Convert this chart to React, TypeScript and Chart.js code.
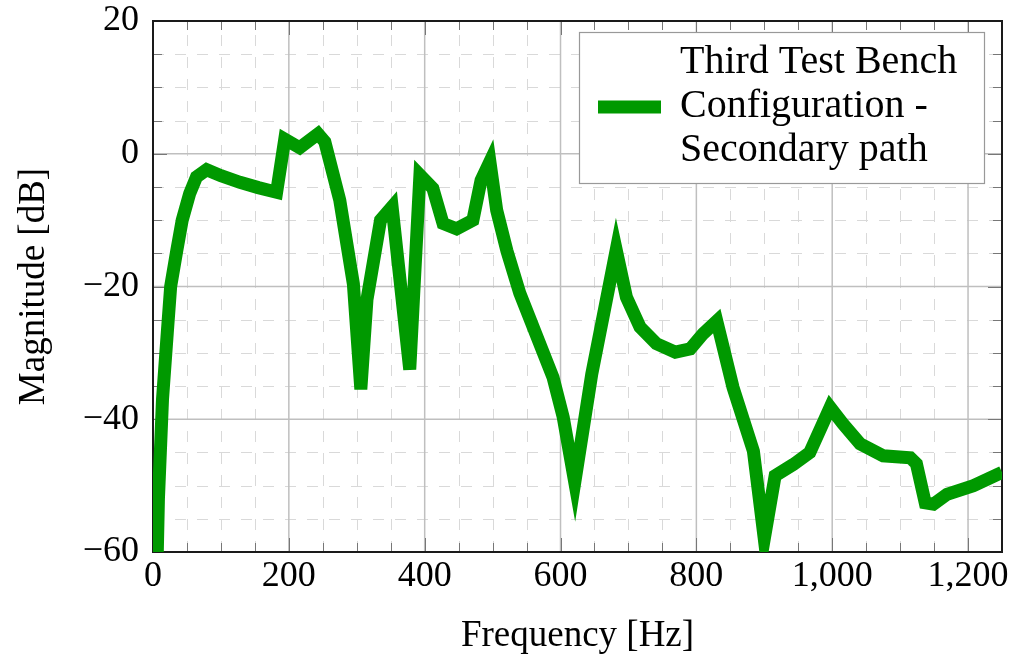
import React, { useEffect, useRef } from "react";
import { Chart, registerables } from "chart.js";

Chart.register(...registerables);

// ---- data ----
const frequencyHz = [
  0, 8, 14, 21, 26, 35, 43, 54, 64, 79,
  100, 128, 155, 182, 194, 216, 243, 253, 275, 295,
  306, 315, 335, 352, 378, 393, 412, 427, 447, 471,
  483, 496, 506, 521, 540, 589, 604, 621, 646, 682,
  697, 717, 741, 769, 791, 810, 830, 854, 884, 900,
  916, 943, 967, 997, 1016, 1041, 1075, 1115, 1124, 1137,
  1149, 1169, 1208, 1250,
];
const magnitudeDb = [
  -90, -52, -37, -27, -20, -14.6, -10, -6, -3.5, -2.4,
  -3.3, -4.3, -5.1, -5.8, 2.2, 0.9, 3.0, 1.8, -7, -19.6,
  -35.5, -22, -10, -8, -32.5, -3.2, -5.2, -10.5, -11.3, -10,
  -4, -1.2, -8.5, -14.6, -21, -33.7, -39.7, -49.5, -33.2, -14.5,
  -21.6, -26.1, -28.6, -29.9, -29.4, -27.1, -25.2, -35.2, -44.8, -58,
  -48.5, -46.8, -45, -38.2, -40.7, -43.7, -45.5, -45.8, -46.7, -52.6,
  -52.8, -51.3, -50, -48,
];
const seriesLabelLines = ["Third Test Bench", "Configuration -", "Secondary path"];
const xRange = [0, 1250];
const yRange = [-60, 20];
const xMajorStep = 200;
const yMajorStep = 20;
const xMinorStep = 50;
const yMinorStep = 5;
const xTitle = "Frequency [Hz]";
const yTitle = "Magnitude [dB]";

const LINE_COLOR = "#009900";
const FONT = "'Liberation Serif', 'Times New Roman', serif";

const gridPlugin = {
  id: "pgfGrid",
  beforeDatasetsDraw(chart: any) {
    const { ctx, chartArea: a, scales } = chart;
    const xs = scales.x;
    const ys = scales.y;
    ctx.save();
    // minor dashed grid
    ctx.strokeStyle = "#d9d9d9";
    ctx.lineWidth = 1;
    ctx.setLineDash([11, 11]);
    for (let v = xRange[0]; v <= xRange[1]; v += xMinorStep) {
      if (v % xMajorStep === 0) continue;
      const px = Math.round(xs.getPixelForValue(v)) + 0.5;
      ctx.beginPath();
      ctx.moveTo(px, a.bottom);
      ctx.lineTo(px, a.top);
      ctx.stroke();
    }
    for (let v = yRange[0]; v <= yRange[1]; v += yMinorStep) {
      if (v % yMajorStep === 0) continue;
      const py = Math.round(ys.getPixelForValue(v)) + 0.5;
      ctx.beginPath();
      ctx.moveTo(a.left, py);
      ctx.lineTo(a.right, py);
      ctx.stroke();
    }
    // major solid grid
    ctx.setLineDash([]);
    ctx.strokeStyle = "#bfbfbf";
    ctx.lineWidth = 1.5;
    for (let v = xRange[0]; v <= xRange[1]; v += xMajorStep) {
      const px = xs.getPixelForValue(v);
      ctx.beginPath();
      ctx.moveTo(px, a.bottom);
      ctx.lineTo(px, a.top);
      ctx.stroke();
    }
    for (let v = yRange[0]; v <= yRange[1]; v += yMajorStep) {
      const py = ys.getPixelForValue(v);
      ctx.beginPath();
      ctx.moveTo(a.left, py);
      ctx.lineTo(a.right, py);
      ctx.stroke();
    }
    // tick marks on all four sides
    ctx.strokeStyle = "#777777";
    ctx.lineWidth = 1;
    for (let v = xRange[0]; v <= xRange[1]; v += xMinorStep) {
      const len = v % xMajorStep === 0 ? 14 : 9;
      const px = Math.round(xs.getPixelForValue(v)) + 0.5;
      ctx.beginPath();
      ctx.moveTo(px, a.bottom);
      ctx.lineTo(px, a.bottom - len);
      ctx.moveTo(px, a.top);
      ctx.lineTo(px, a.top + len);
      ctx.stroke();
    }
    for (let v = yRange[0]; v <= yRange[1]; v += yMinorStep) {
      const len = v % yMajorStep === 0 ? 14 : 9;
      const py = Math.round(ys.getPixelForValue(v)) + 0.5;
      ctx.beginPath();
      ctx.moveTo(a.left, py);
      ctx.lineTo(a.left + len, py);
      ctx.moveTo(a.right, py);
      ctx.lineTo(a.right - len, py);
      ctx.stroke();
    }
    // frame
    ctx.strokeStyle = "#1a1a1a";
    ctx.lineWidth = 2;
    ctx.strokeRect(a.left, a.top, a.right - a.left, a.bottom - a.top);
    ctx.restore();
  },
  afterDraw(chart: any) {
    const { ctx, chartArea: a } = chart;
    ctx.save();
    const boxL = a.right - 423;
    const boxT = a.top + 11;
    const boxW = 405;
    const boxH = 151;
    ctx.fillStyle = "#ffffff";
    ctx.fillRect(boxL, boxT, boxW, boxH);
    ctx.strokeStyle = "#999999";
    ctx.lineWidth = 1.2;
    ctx.strokeRect(boxL + 0.5, boxT + 0.5, boxW, boxH);
    // legend line sample
    ctx.strokeStyle = LINE_COLOR;
    ctx.lineWidth = 13;
    ctx.beginPath();
    ctx.moveTo(boxL + 19, boxT + 75);
    ctx.lineTo(boxL + 82, boxT + 75);
    ctx.stroke();
    // legend text
    ctx.fillStyle = "#000000";
    ctx.font = `40px ${FONT}`;
    ctx.textBaseline = "alphabetic";
    ctx.textAlign = "left";
    seriesLabelLines.forEach((line, i) => {
      ctx.fillText(line, boxL + 101, boxT + 41 + i * 44);
    });
    ctx.restore();
  },
};

export default function App() {
  const canvasRef = useRef<HTMLCanvasElement | null>(null);

  useEffect(() => {
    const canvas = canvasRef.current;
    if (!canvas) return;
    const chart = new Chart(canvas, {
      type: "line",
      data: {
        datasets: [
          {
            label: seriesLabelLines.join(" "),
            data: frequencyHz.map((f, i) => ({ x: f, y: magnitudeDb[i] })),
            borderColor: LINE_COLOR,
            backgroundColor: LINE_COLOR,
            borderWidth: 13,
            pointRadius: 0,
            pointHoverRadius: 0,
            tension: 0,
            fill: false,
            clip: 0,
            borderJoinStyle: "miter",
            borderCapStyle: "butt",
          } as any,
        ],
      },
      options: {
        animation: false,
        responsive: false,
        devicePixelRatio: 1,
        events: [],
        layout: { padding: { top: 21, right: 10, left: 0, bottom: 0 } },
        plugins: {
          legend: { display: false },
          tooltip: { enabled: false },
        },
        scales: {
          x: {
            type: "linear",
            min: xRange[0],
            max: xRange[1],
            grid: { display: false, drawTicks: false },
            border: { display: false },
            ticks: {
              stepSize: xMajorStep,
              includeBounds: false,
              color: "#000000",
              padding: 3,
              maxRotation: 0,
              font: { family: FONT, size: 36 },
              callback: (v: any) => Number(v).toLocaleString("en-US"),
            },
            title: {
              display: true,
              text: xTitle,
              color: "#000000",
              font: { family: FONT, size: 37 },
              padding: { top: 0, bottom: 2 },
            },
            afterFit: (scale: any) => {
              scale.height = 108;
              scale.paddingLeft = 0;
              scale.paddingRight = 0;
            },
          },
          y: {
            type: "linear",
            min: yRange[0],
            max: yRange[1],
            grid: { display: false, drawTicks: false },
            border: { display: false },
            ticks: {
              stepSize: yMajorStep,
              color: "#000000",
              padding: 14,
              font: { family: FONT, size: 36 },
              callback: (v: any) => String(v).replace("-", "\u2212"),
            },
            title: {
              display: true,
              text: yTitle,
              color: "#000000",
              font: { family: FONT, size: 37 },
              padding: { top: 12, bottom: 0 },
            },
            afterFit: (scale: any) => {
              scale.width = 153;
              scale.paddingTop = 0;
              scale.paddingBottom = 0;
            },
          },
        },
      },
      plugins: [gridPlugin],
    });
    return () => chart.destroy();
  }, []);

  return (
    <div style={{ position: "absolute", left: 0, top: 0, width: 1012, height: 660, background: "#ffffff" }}>
      <canvas ref={canvasRef} width={1012} height={660} style={{ display: "block" }} />
    </div>
  );
}
